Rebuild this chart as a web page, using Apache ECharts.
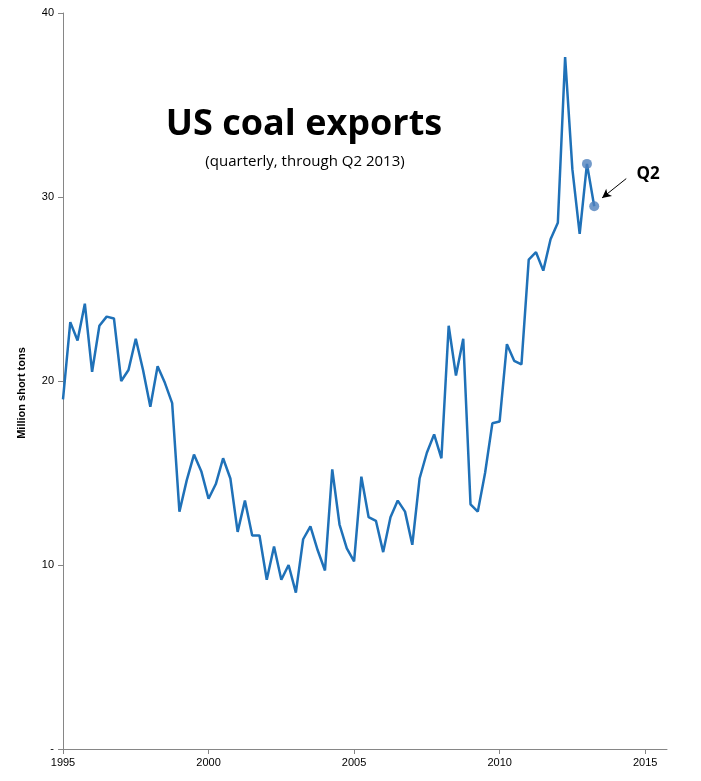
<!DOCTYPE html>
<html>
<head>
<meta charset="utf-8">
<script src="https://cdn.jsdelivr.net/npm/echarts@6/dist/echarts.min.js"></script>
<style>
  html, body { margin: 0; padding: 0; background: #fff; }
  #chart { width: 701px; height: 781px; }
</style>
</head>
<body>
<div id="chart"></div>
<script>
// quarterly exports, million short tons, Q1 1995 .. Q2 2013
var startYear = 1995;
var exportsMst = [
    19.0, 23.2, 22.2, 24.2,
    20.5, 23.0, 23.5, 23.4,
    20.0, 20.6, 22.3, 20.6,
    18.6, 20.8, 19.9, 18.8,
    12.9, 14.6, 16.0, 15.1,
    13.6, 14.4, 15.8, 14.7,
    11.8, 13.5, 11.6, 11.6,
    9.2, 11.0, 9.2, 10.0,
    8.5, 11.4, 12.1, 10.8,
    9.7, 15.2, 12.2, 10.9,
    10.2, 14.8, 12.6, 12.4,
    10.7, 12.6, 13.5, 12.9,
    11.1, 14.7, 16.1, 17.1,
    15.8, 23.0, 20.3, 22.3,
    13.3, 12.9, 15.0, 17.7,
    17.8, 22.0, 21.1, 20.9,
    26.6, 27.0, 26.0, 27.7,
    28.6, 37.6, 31.5, 28.0,
    31.8, 29.5
];
var xTicks = [1995, 2000, 2005, 2010, 2015];
var yTicks = [0, 10, 20, 30, 40];
var highlightCount = 2; // last two quarters get dots

function render_exports(divId) {
    var points = exportsMst.map(function (v, i) {
        return [startYear + i / 4, v];
    });
    var lastPoints = points.slice(points.length - highlightCount);
    var q2 = points[points.length - 1];

    var labelFont = 'Liberation Sans, Arial, sans-serif';
    var myChart = echarts.init(document.getElementById(divId));
    var option = {
        animation: false,
        grid: { left: 63, top: 13, right: 34, bottom: 32 },
        title: [
            {
                text: 'US coal exports',
                left: 299, top: 102, textAlign: 'center',
                textStyle: { fontFamily: 'Open Sans, sans-serif', fontSize: 36, fontWeight: 'bold', color: '#000' }
            },
            {
                text: '(quarterly, through Q2 2013)',
                left: 300, top: 149, textAlign: 'center',
                textStyle: { fontFamily: 'Open Sans, sans-serif', fontSize: 15, fontWeight: 'normal', color: '#000' }
            }
        ],
        xAxis: {
            type: 'value',
            min: 1995, max: 2015.75,
            splitLine: { show: false },
            axisLine: { lineStyle: { color: '#868686', width: 1 } },
            axisTick: { customValues: xTicks, length: 5, lineStyle: { color: '#868686' } },
            axisLabel: {
                customValues: xTicks, margin: 8,
                fontFamily: labelFont, fontSize: 11, color: '#000',
                formatter: function (v) { return String(v); }
            }
        },
        yAxis: {
            type: 'value',
            min: 0, max: 40, interval: 10,
            name: 'Million short tons',
            nameLocation: 'middle', nameGap: 36,
            nameTextStyle: { fontFamily: labelFont, fontSize: 11, fontWeight: 'bold', color: '#000', padding: [0, 24, 0, 0] },
            splitLine: { show: false },
            axisLine: { show: true, lineStyle: { color: '#868686', width: 1 } },
            axisTick: { show: true, length: 5, lineStyle: { color: '#868686' } },
            axisLabel: {
                margin: 9, fontFamily: labelFont, fontSize: 11, color: '#000',
                formatter: function (v) { return v === 0 ? '-' : String(v); }
            }
        },
        series: [
            {
                type: 'line',
                data: points,
                showSymbol: false,
                lineStyle: { color: '#1f71b8', width: 2.5 },
                z: 2
            },
            {
                type: 'scatter',
                data: lastPoints,
                symbolSize: 10,
                itemStyle: { color: '#4f81bd' },
                z: 3,
                markLine: {
                    silent: true,
                    symbol: ['none', 'arrow'],
                    symbolSize: [7, 9],
                    lineStyle: { color: '#000', width: 1, type: 'solid' },
                    label: { show: false },
                    data: [[
                        { coord: [q2[0] + 1.1, q2[1] + 1.5] },
                        { coord: [q2[0] + 0.27, q2[1] + 0.45] }
                    ]]
                },
                markPoint: {
                    silent: true,
                    symbol: 'circle', symbolSize: 1,
                    itemStyle: { color: 'rgba(0,0,0,0)' },
                    label: {
                        show: true, position: 'inside', formatter: 'Q2',
                        fontFamily: 'Open Sans, sans-serif', fontSize: 17, fontWeight: 'bold', color: '#000'
                    },
                    data: [{ coord: [q2[0] + 1.85, q2[1] + 1.75] }]
                }
            }
        ]
    };
    myChart.setOption(option);
}

render_exports('chart');
</script>
</body>
</html>
